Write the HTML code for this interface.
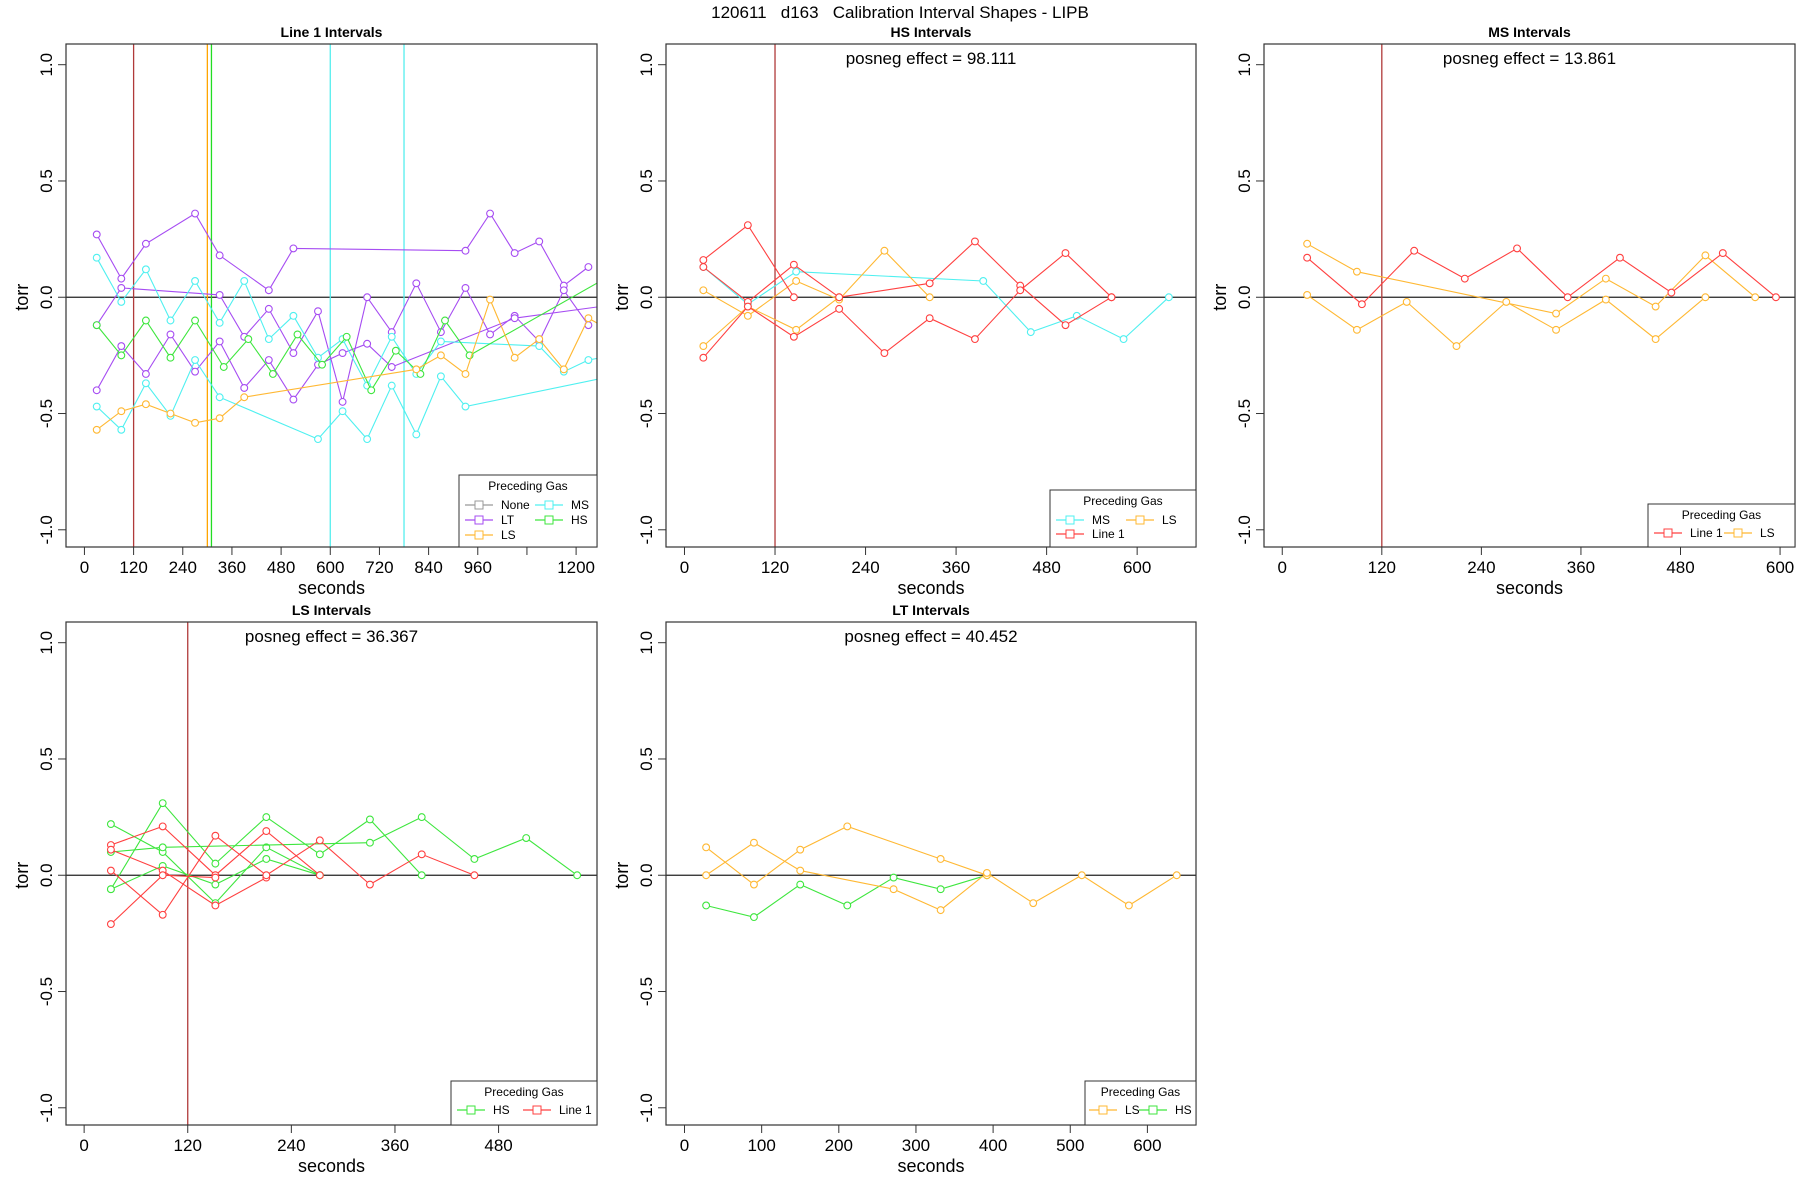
<!DOCTYPE html>
<html><head><meta charset="utf-8">
<style>
html,body{margin:0;padding:0;background:#fff;}
svg{display:block;font-family:"Liberation Sans",Arial,sans-serif;}
</style></head>
<body>
<svg id="chart" width="1800" height="1200" viewBox="0 0 1800 1200">
<text x="900" y="18" text-anchor="middle" font-size="17" style="white-space:pre" xml:space="preserve">120611   d163   Calibration Interval Shapes - LIPB</text>
</svg>
<script>
// ---- Panel 1: Line 1 Intervals ----
const p1_LT_a_t=[30,90,150,270,330,450,510,930,990,1050,1110,1170,1230];
const p1_LT_a_v=[0.27,0.08,0.23,0.36,0.18,0.03,0.21,0.20,0.36,0.19,0.24,0.05,0.13];
const p1_LT_b_t=[30,90,330,390,450,510,570,630,690,750,810,870,930,990,1050,1110,1170,1230];
const p1_LT_b_v=[-0.12,0.04,0.01,-0.17,-0.05,-0.24,-0.06,-0.45,0.0,-0.15,0.06,-0.15,0.04,-0.16,-0.08,-0.19,0.03,-0.12];
const p1_LT_c_t=[30,90,150,210,270,330,390,450,510,570,630,690,750,1050,1260];
const p1_LT_c_v=[-0.40,-0.21,-0.33,-0.16,-0.32,-0.19,-0.39,-0.27,-0.44,-0.29,-0.24,-0.20,-0.30,-0.09,-0.04];
const p1_MS_a_t=[30,90,150,210,270,330,390,450,510,570,630,690,750,810,870,1110,1170,1230,1260];
const p1_MS_a_v=[0.17,-0.02,0.12,-0.10,0.07,-0.11,0.07,-0.18,-0.08,-0.26,-0.18,-0.38,-0.17,-0.33,-0.19,-0.21,-0.32,-0.27,-0.26];
const p1_MS_b_t=[30,90,150,210,270,330,570,630,690,750,810,870,930,1260];
const p1_MS_b_v=[-0.47,-0.57,-0.37,-0.51,-0.27,-0.43,-0.61,-0.49,-0.61,-0.38,-0.59,-0.34,-0.47,-0.35];
const p1_HS_t=[30,90,150,210,270,340,400,460,520,580,640,700,760,820,880,940,1260];
const p1_HS_v=[-0.12,-0.25,-0.10,-0.26,-0.10,-0.30,-0.18,-0.33,-0.16,-0.29,-0.17,-0.40,-0.23,-0.33,-0.10,-0.25,0.07];
const p1_LS_t=[30,90,150,210,270,330,390,810,870,930,990,1050,1110,1170,1230,1260];
const p1_LS_v=[-0.57,-0.49,-0.46,-0.50,-0.54,-0.52,-0.43,-0.31,-0.25,-0.33,-0.01,-0.26,-0.18,-0.31,-0.09,-0.12];
const p1_vlines=[120,300,310,600,780];
const p1_xticks=[0,120,240,360,480,600,720,840,960,1080,1200];
const p1_xlabels=["0","120","240","360","480","600","720","840","960","","1200"];
// ---- Panel 2: HS Intervals ----
const p2_L1_a_t=[25,84,145];
const p2_L1_a_v=[0.16,0.31,0.0];
const p2_L1_b_t=[25,84,145,205,325,385,445,505,566];
const p2_L1_b_v=[0.13,-0.02,0.14,0.0,0.06,0.24,0.05,-0.12,0.0];
const p2_L1_c_t=[25,84,145,205,265,325,385,445,505,566];
const p2_L1_c_v=[-0.26,-0.04,-0.17,-0.05,-0.24,-0.09,-0.18,0.03,0.19,0.0];
const p2_MS_t=[25,84,148,396,459,520,582,642];
const p2_MS_v=[0.13,-0.03,0.11,0.07,-0.15,-0.08,-0.18,0.0];
const p2_LS_a_t=[25,84,148,205,265,325];
const p2_LS_a_v=[0.03,-0.08,0.07,-0.01,0.20,0.0];
const p2_LS_b_t=[25,84,148,205];
const p2_LS_b_v=[-0.21,-0.04,-0.14,0.0];
const p2_xticks=[0,120,240,360,480,600];
// ---- Panel 3: MS Intervals ----
const p3_L1_t=[30,96,159,220,283,344,407,469,531,595];
const p3_L1_v=[0.17,-0.03,0.20,0.08,0.21,0.0,0.17,0.02,0.19,0.0];
const p3_LS_a_t=[30,90,330,390,450,510,570];
const p3_LS_a_v=[0.23,0.11,-0.07,0.08,-0.04,0.18,0.0];
const p3_LS_b_t=[30,90,150,210,270,330,390,450,510];
const p3_LS_b_v=[0.01,-0.14,-0.02,-0.21,-0.02,-0.14,-0.01,-0.18,0.0];
const p3_xticks=[0,120,240,360,480,600];
// ---- Panel 4: LS Intervals ----
const p4_HS_a_t=[31,91,152,211,273];
const p4_HS_a_v=[0.22,0.10,-0.12,0.12,0.0];
const p4_HS_b_t=[31,91,152,211,273,331,391];
const p4_HS_b_v=[-0.06,0.31,0.05,0.25,0.09,0.24,0.0];
const p4_HS_c_t=[31,91,152,211,273];
const p4_HS_c_v=[-0.06,0.04,-0.04,0.07,0.0];
const p4_HS_d_t=[31,91,331,391,452,512,571];
const p4_HS_d_v=[0.10,0.12,0.14,0.25,0.07,0.16,0.0];
const p4_L1_a_t=[31,91,152,211,273];
const p4_L1_a_v=[0.13,0.21,0.0,0.19,0.0];
const p4_L1_b_t=[31,91,152,211];
const p4_L1_b_v=[0.11,0.02,-0.13,-0.01];
const p4_L1_c_t=[31,91,152,211,273,331,391,452];
const p4_L1_c_v=[0.02,-0.17,0.17,0.0,0.15,-0.04,0.09,0.0];
const p4_L1_d_t=[31,91,152];
const p4_L1_d_v=[-0.21,0.0,-0.01];
const p4_xticks=[0,120,240,360,480];
// ---- Panel 5: LT Intervals ----
const p5_LS_a_t=[28,90,150,211,332,392];
const p5_LS_a_v=[0.12,-0.04,0.11,0.21,0.07,0.0];
const p5_LS_b_t=[28,90,150,271,332,392,452,515,576,638];
const p5_LS_b_v=[0.0,0.14,0.02,-0.06,-0.15,0.01,-0.12,0.0,-0.13,0.0];
const p5_HS_t=[28,90,150,211,271,332,392];
const p5_HS_v=[-0.13,-0.18,-0.04,-0.13,-0.01,-0.06,0.0];
const p5_xticks=[0,100,200,300,400,500,600];

const NS='http://www.w3.org/2000/svg';
const svg=document.getElementById('chart');
const C={LT:'#a64cf2',MS:'#4ff0f0',HS:'#3ee63e',LS:'#ffb833',L1:'#ff4040',None:'#999999'};
function mk(tag,attrs,parent){const e=document.createElementNS(NS,tag);for(const k in attrs)e.setAttribute(k,attrs[k]);(parent||svg).appendChild(e);return e;}

function panel(cfg){
  const g=mk('g',{});
  
  
  const L=cfg.box[0],R=cfg.box[1],T=cfg.box[2],B=cfg.box[3];
  const ylo=-1.074,yhi=1.089;
  const sx=v=>L+(v-cfg.xlim[0])/(cfg.xlim[1]-cfg.xlim[0])*(R-L);
  const sy=v=>B-(v-ylo)/(yhi-ylo)*(B-T);
  const clip='clip-'+cfg.name;
  const cp=mk('clipPath',{id:clip},g);mk('rect',{x:L,y:T,width:R-L,height:B-T},cp);
  const inner=mk('g',{'clip-path':'url(#'+clip+')'},g);
  const z=mk('line',{x1:L,x2:R,y1:sy(0),y2:sy(0),stroke:'#222','stroke-width':1.2},inner);
  
  
  (cfg.vlines||[]).forEach(v=>{
    const l=mk('line',{x1:sx(v[0]),x2:sx(v[0]),y1:T,y2:B,stroke:v[1],'stroke-width':1.3},inner);
    
    
  });
  cfg.series.forEach(s=>{
    const pts=s.t.map((t,i)=>sx(t).toFixed(1)+','+sy(s.v[i]).toFixed(1)).join(' ');
    const pl=mk('polyline',{points:pts,fill:'none',stroke:C[s.c],'stroke-width':1.1},inner);
    
    
    s.t.forEach((t,i)=>{
      if(sx(t)>R)return;
      const c=mk('circle',{cx:sx(t),cy:sy(s.v[i]),r:3.4,fill:'#fff',stroke:C[s.c],'stroke-width':1.1},inner);
      
      
    });
  });
  const bx=mk('rect',{x:L,y:T,width:R-L,height:B-T,fill:'none',stroke:'#333','stroke-width':1.2},g);
  
  
  [-1,-0.5,0,0.5,1].forEach(v=>{
    mk('line',{x1:L-8,x2:L,y1:sy(v),y2:sy(v),stroke:'#333'},g);
    const tx=mk('text',{x:L-14,y:sy(v),'font-size':17,'text-anchor':'middle',transform:'rotate(-90 '+(L-14)+' '+sy(v)+')'},g);
    tx.textContent=v.toFixed(1);
    
    
  });
  const yt=mk('text',{x:L-38,y:(sy(0)),'font-size':18,'text-anchor':'middle',transform:'rotate(-90 '+(L-38)+' '+sy(0)+')'},g);
  yt.textContent='torr';
  
  
  cfg.xticks.forEach((v,i)=>{
    mk('line',{x1:sx(v),x2:sx(v),y1:B,y2:B+8,stroke:'#333'},g);
    const tx=mk('text',{x:sx(v),y:B+26,'font-size':17,'text-anchor':'middle'},g);
    tx.textContent=cfg.xlabels?cfg.xlabels[i]:String(v);
    
    
  });
  const xt=mk('text',{x:(L+R)/2,y:B+47,'font-size':18,'text-anchor':'middle'},g);
  xt.textContent='seconds';
  
  
  const tt=mk('text',{x:(L+R)/2,y:T-7,'font-size':14,'font-weight':'bold','text-anchor':'middle'},g);
  tt.textContent=cfg.title;
  
  
  if(cfg.posneg){
    const pn=mk('text',{x:(L+R)/2,y:T+20,'font-size':17,'text-anchor':'middle'},g);
    pn.textContent=cfg.posneg;
    
    
  }
  const lg=cfg.legend;
  const lgG=mk('g',{},g);
  
  
  mk('rect',{x:lg.x,y:lg.y,width:R-lg.x,height:B-lg.y,fill:'#fff',stroke:'#333','stroke-width':1},lgG);
  const lh=mk('text',{x:(lg.x+R)/2,y:lg.y+15,'font-size':12,'text-anchor':'middle'},lgG);
  lh.textContent='Preceding Gas';
  lg.items.forEach(it=>{
    const ix=lg.x+it[2],iy=lg.y+it[3];
    const e=mk('g',{},lgG);
    
    
    mk('line',{x1:ix,x2:ix+28,y1:iy,y2:iy,stroke:C[it[0]],'stroke-width':1.2},e);
    mk('rect',{x:ix+10,y:iy-4,width:8,height:8,fill:'#fff',stroke:C[it[0]]},e);
    const t=mk('text',{x:ix+36,y:iy+4,'font-size':12},e);
    t.textContent=it[1];
  });
}
const BR='#b03a3a';
panel({name:'panel-line1-intervals',title:'Line 1 Intervals',box:[66,597,44,547],xlim:[-45,1251],
  xticks:p1_xticks,xlabels:p1_xlabels,
  vlines:[[p1_vlines[0],BR],[p1_vlines[1],'#ffa500'],[p1_vlines[2],'#22dd22'],[p1_vlines[3],'#55eeee'],[p1_vlines[4],'#55eeee']],
  series:[{t:p1_LT_a_t,v:p1_LT_a_v,c:'LT'},{t:p1_LT_b_t,v:p1_LT_b_v,c:'LT'},{t:p1_LT_c_t,v:p1_LT_c_v,c:'LT'},
    {t:p1_MS_a_t,v:p1_MS_a_v,c:'MS'},{t:p1_MS_b_t,v:p1_MS_b_v,c:'MS'},{t:p1_HS_t,v:p1_HS_v,c:'HS'},{t:p1_LS_t,v:p1_LS_v,c:'LS'}],
  legend:{x:459,y:475,items:[['None','None',6,30],['MS','MS',76,30],['LT','LT',6,45],['HS','HS',76,45],['LS','LS',6,60]]}});
panel({name:'panel-hs-intervals',title:'HS Intervals',box:[666,1196,44,547],xlim:[-24.5,678],
  xticks:p2_xticks,posneg:'posneg effect = 98.111',vlines:[[120,BR]],
  series:[{t:p2_MS_t,v:p2_MS_v,c:'MS'},{t:p2_LS_a_t,v:p2_LS_a_v,c:'LS'},{t:p2_LS_b_t,v:p2_LS_b_v,c:'LS'},
    {t:p2_L1_a_t,v:p2_L1_a_v,c:'L1'},{t:p2_L1_b_t,v:p2_L1_b_v,c:'L1'},{t:p2_L1_c_t,v:p2_L1_c_v,c:'L1'}],
  legend:{x:1050,y:490,items:[['MS','MS',6,30],['LS','LS',76,30],['L1','Line 1',6,44]]}});
panel({name:'panel-ms-intervals',title:'MS Intervals',box:[1264,1795,44,547],xlim:[-22,618],
  xticks:p3_xticks,posneg:'posneg effect = 13.861',vlines:[[120,BR]],
  series:[{t:p3_LS_a_t,v:p3_LS_a_v,c:'LS'},{t:p3_LS_b_t,v:p3_LS_b_v,c:'LS'},{t:p3_L1_t,v:p3_L1_v,c:'L1'}],
  legend:{x:1648,y:504,items:[['L1','Line 1',6,29],['LS','LS',76,29]]}});
panel({name:'panel-ls-intervals',title:'LS Intervals',box:[66,597,622,1125],xlim:[-21,594],
  xticks:p4_xticks,posneg:'posneg effect = 36.367',vlines:[[120,BR]],
  series:[{t:p4_HS_a_t,v:p4_HS_a_v,c:'HS'},{t:p4_HS_b_t,v:p4_HS_b_v,c:'HS'},{t:p4_HS_c_t,v:p4_HS_c_v,c:'HS'},{t:p4_HS_d_t,v:p4_HS_d_v,c:'HS'},
    {t:p4_L1_a_t,v:p4_L1_a_v,c:'L1'},{t:p4_L1_b_t,v:p4_L1_b_v,c:'L1'},{t:p4_L1_c_t,v:p4_L1_c_v,c:'L1'},{t:p4_L1_d_t,v:p4_L1_d_v,c:'L1'}],
  legend:{x:451,y:1081,items:[['HS','HS',6,29],['L1','Line 1',72,29]]}});
panel({name:'panel-lt-intervals',title:'LT Intervals',box:[666,1196,622,1125],xlim:[-24,663],
  xticks:p5_xticks,posneg:'posneg effect = 40.452',
  series:[{t:p5_HS_t,v:p5_HS_v,c:'HS'},{t:p5_LS_a_t,v:p5_LS_a_v,c:'LS'},{t:p5_LS_b_t,v:p5_LS_b_v,c:'LS'}],
  legend:{x:1085,y:1081,items:[['LS','LS',4,29],['HS','HS',54,29]]}});
</script>
</body></html>
